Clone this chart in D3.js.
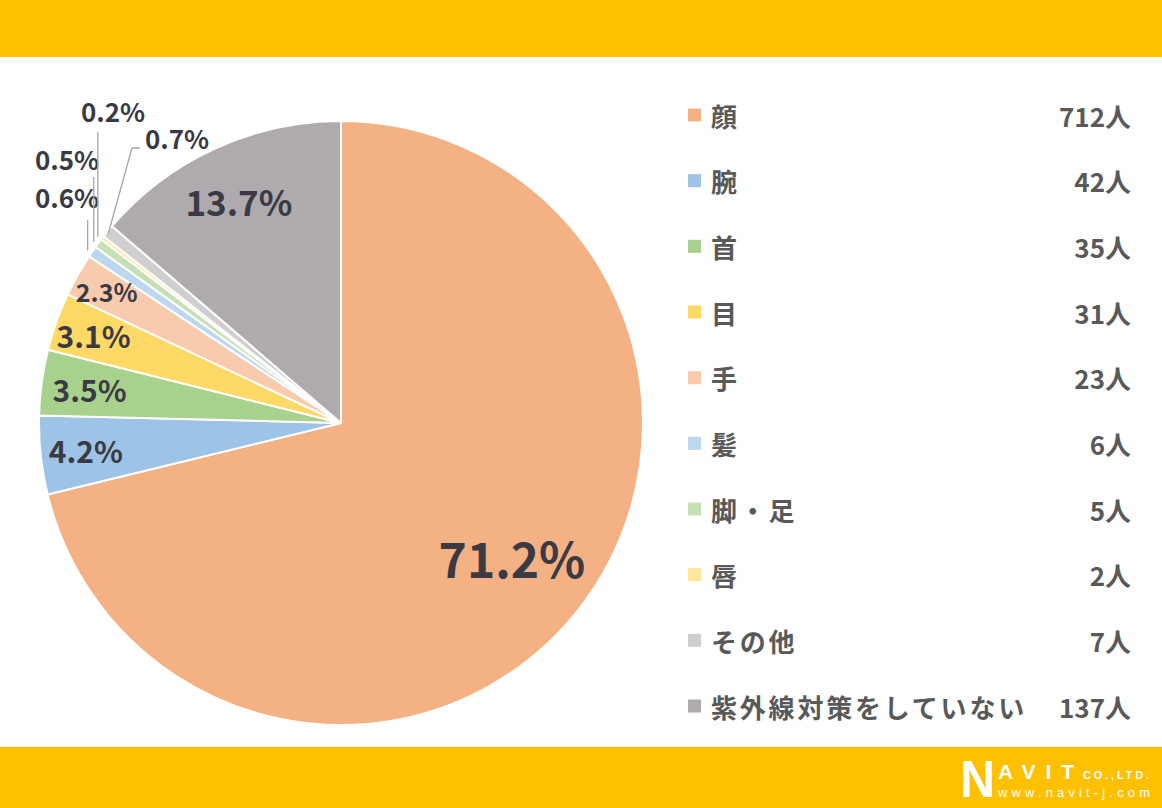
<!DOCTYPE html>
<html>
<head>
<meta charset="utf-8">
<script src="https://cdn.jsdelivr.net/npm/d3@7"></script>
<style>
  html, body { margin: 0; padding: 0; background: #fff; }
  svg text { font-family: "Noto Sans CJK JP", "Noto Sans", sans-serif; font-weight: bold; }
</style>
</head>
<body>
<div class="chart"></div>
<script>
// Data.
let categories = ['顔', '腕', '首', '目', '手', '髪', '脚・足', '唇', 'その他', '紫外線対策をしていない'];
let counts = [712, 42, 35, 31, 23, 6, 5, 2, 7, 137];
let percents = ['71.2%', '4.2%', '3.5%', '3.1%', '2.3%', '0.6%', '0.5%', '0.2%', '0.7%', '13.7%'];
let colors = ['#F4B183', '#9DC3E6', '#A9D18E', '#FFD966', '#F8CBAD', '#BDD7EE', '#C5E0B4', '#FFE699', '#D0CECE', '#AEAAAE'];

// Build constants.
let width = 1162,
    height = 808,
    cx = 341,
    cy = 423,
    radius = 302;

let svg = d3.select('.chart')
    .append('svg')
        .attr('width', width)
        .attr('height', height);

// Bands.
svg.append('rect').attr('x', 0).attr('y', 0).attr('width', width).attr('height', 57).attr('fill', '#FFC000');
svg.append('rect').attr('x', 0).attr('y', 747).attr('width', width).attr('height', height - 747).attr('fill', '#FFC000');

// Pie.
let rows = categories.map((c, i) => ({name: c, value: counts[i], pct: percents[i], color: colors[i], i: i}));

let pie = d3.pie().value(d => d.value).sort(null);
let arcs = pie(rows);
let arc = d3.arc().innerRadius(0).outerRadius(radius);

let g = svg.append('g').attr('transform', `translate(${cx}, ${cy})`);

g.selectAll('path')
    .data(arcs)
    .join('path')
        .attr('d', arc)
        .attr('fill', d => d.data.color)
        .attr('stroke', '#fff')
        .attr('stroke-width', 2)
        .attr('stroke-linejoin', 'round');

let ink = '#3A3A44';

// Inside labels: radius factor and font size.
let inside = {0: [0.72, 48], 1: [0.85, 30], 2: [0.84, 30], 3: [0.87, 30], 4: [0.89, 25], 9: [0.81, 35]};

arcs.forEach(d => {
    let cfg = inside[d.data.i];
    if (!cfg) return;
    let a = (d.startAngle + d.endAngle) / 2;
    let r = radius * cfg[0];
    g.append('text')
        .attr('x', r * Math.sin(a))
        .attr('y', -r * Math.cos(a))
        .attr('text-anchor', 'middle')
        .attr('dominant-baseline', 'central')
        .attr('font-size', cfg[1])
        .attr('fill', ink)
        .text(d.data.pct);
});

// Outside labels with leader lines (label offset from center, line bend).
let outside = {
    5: {lx: -274, ly: -227, bx: null, top: -203},
    6: {lx: -274, ly: -265, bx: null, top: -246},
    7: {lx: -228, ly: -313, bx: null, top: -291},
    8: {lx: -164, ly: -286, bx: -209, by: -275}
};

arcs.forEach(d => {
    let o = outside[d.data.i];
    if (!o) return;
    let a = (d.startAngle + d.endAngle) / 2;
    let px = (radius + 2) * Math.sin(a),
        py = -(radius + 2) * Math.cos(a);
    let pts;
    if (o.bx === null) {
        pts = [[px - 3, py], [px - 3, o.top]];
    } else {
        pts = [[px + 2, py + 4], [o.bx, o.by], [o.bx + 8, o.by]];
    }
    g.append('path')
        .attr('d', d3.line()(pts))
        .attr('fill', 'none')
        .attr('stroke', '#A6A6A6')
        .attr('stroke-width', 1.3);
    g.append('text')
        .attr('x', o.lx)
        .attr('y', o.ly)
        .attr('text-anchor', 'middle')
        .attr('dominant-baseline', 'central')
        .attr('font-size', 26)
        .attr('fill', ink)
        .text(d.data.pct);
});

// Legend.
let legendY = d3.scalePoint()
    .domain(categories)
    .range([115, 706]);

let legend = svg.append('g');

let item = legend.selectAll('g')
    .data(rows)
    .join('g')
        .attr('transform', d => `translate(0, ${legendY(d.name)})`);

item.append('rect')
    .attr('x', 688)
    .attr('y', -6.5)
    .attr('width', 13)
    .attr('height', 13)
    .attr('fill', d => d.color);

item.append('text')
    .attr('x', 711)
    .attr('y', 0)
    .attr('dominant-baseline', 'central')
    .attr('font-size', 26)
    .attr('letter-spacing', 2.8)
    .attr('fill', '#595959')
    .text(d => d.name);

item.append('text')
    .attr('x', 1131)
    .attr('y', 0)
    .attr('text-anchor', 'end')
    .attr('dominant-baseline', 'central')
    .attr('font-size', 26)
    .attr('fill', '#595959')
    .text(d => d.value + '人');

// Footer logo.
let logo = svg.append('g').attr('fill', '#fff')
    .style('font-family', 'Arial, "Liberation Sans", sans-serif');
logo.append('text').attr('x', 960).attr('y', 797)
    .style('font-weight', 900).style('font-family', 'Arial, "Liberation Sans", sans-serif')
    .attr('font-size', 52).attr('textLength', 35).attr('lengthAdjust', 'spacingAndGlyphs').text('N');
logo.append('text').attr('x', 998).attr('y', 779)
    .style('font-weight', 900).style('font-family', 'Arial, "Liberation Sans", sans-serif')
    .attr('font-size', 21).attr('textLength', 76).text('AVIT');
logo.append('text').attr('x', 1083).attr('y', 779)
    .style('font-weight', 'bold').style('font-family', 'Arial, "Liberation Sans", sans-serif')
    .attr('font-size', 11).attr('textLength', 66).text('CO.,LTD.');
logo.append('text').attr('x', 998).attr('y', 797)
    .style('font-weight', 'normal').style('font-family', 'Arial, "Liberation Sans", sans-serif')
    .attr('font-size', 13).attr('textLength', 152).text('www.navit-j.com');
</script>
</body>
</html>
